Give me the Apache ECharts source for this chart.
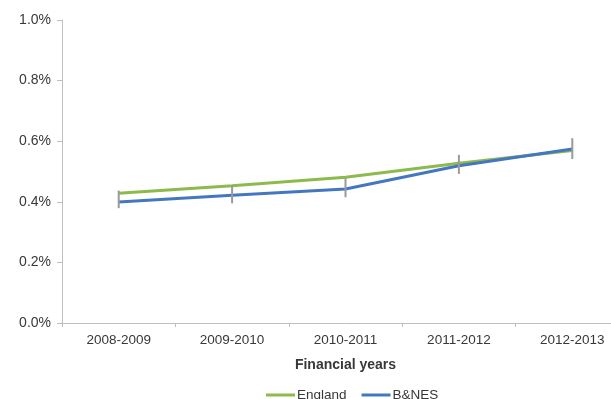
<!DOCTYPE html>
<html>
<head>
<meta charset="utf-8">
<script src="https://cdn.jsdelivr.net/npm/echarts@6/dist/echarts.min.js"></script>
<style>
  html, body { margin: 0; padding: 0; background: #fff; overflow: hidden; width: 611px; height: 399px; }
  /* the plot runs a little past the right edge of the window */
  #chart { width: 629px; height: 399px; }
</style>
</head>
<body>
<div id="chart"></div>
<script>
// Financial years on the category axis
const years = ['2008-2009', '2009-2010', '2010-2011', '2011-2012', '2012-2013'];
// Rates in percent
const england = [0.428, 0.453, 0.481, 0.527, 0.569];
const bnes = [0.399, 0.422, 0.442, 0.519, 0.574];
// Confidence interval for B&NES (percent)
const bnesLower = [0.379, 0.395, 0.415, 0.492, 0.541];
const bnesUpper = [0.437, 0.455, 0.478, 0.555, 0.610];
// Y-axis ticks
const yTicks = [0, 0.2, 0.4, 0.6, 0.8, 1.0];

const font = '"Liberation Sans", Arial, sans-serif';
const textColor = '#383838';
const axisGrey = '#bfbfbf';

const chart = echarts.init(document.getElementById('chart'), null, { renderer: 'canvas' });

const errorData = years.map((_, i) => [i, bnesLower[i], bnesUpper[i]]);

chart.setOption({
  animation: false,
  textStyle: { fontFamily: font },
  grid: { left: 62, top: 20, right: 0, height: 303 },
  xAxis: {
    type: 'category',
    data: years,
    boundaryGap: true,
    axisLine: { lineStyle: { color: axisGrey, width: 1 } },
    axisTick: { show: true, alignWithLabel: false, length: 4, lineStyle: { color: axisGrey } },
    axisLabel: { show: true, color: textColor, fontSize: 13.5, fontFamily: font, margin: 10 },
    name: 'Financial years',
    nameLocation: 'middle',
    nameGap: 35,
    nameTextStyle: { color: textColor, fontSize: 14, fontWeight: 'bold', fontFamily: font }
  },
  yAxis: {
    type: 'value',
    min: yTicks[0],
    max: yTicks[yTicks.length - 1],
    interval: 0.2,
    axisLine: { show: true, lineStyle: { color: axisGrey, width: 1 } },
    axisTick: { show: true, length: 5, lineStyle: { color: axisGrey } },
    splitLine: { show: false },
    axisLabel: {
      color: textColor, fontSize: 14, fontFamily: font, margin: 11,
      formatter: v => v.toFixed(1) + '%'
    }
  },
  legend: {
    top: 383,
    left: 261,
    itemWidth: 29,
    itemHeight: 3,
    itemGap: 15,
    icon: 'rect',
    textStyle: { color: textColor, fontSize: 13.5, fontFamily: font, padding: [0, 0, 0, -3] },
    data: ['England', 'B&NES']
  },
  series: [
    {
      name: 'England',
      type: 'line',
      data: england,
      showSymbol: false,
      symbol: 'none',
      lineStyle: { color: '#8cbb4b', width: 3 },
      itemStyle: { color: '#8cbb4b' },
      z: 2
    },
    {
      name: 'B&NES',
      type: 'line',
      data: bnes,
      showSymbol: false,
      symbol: 'none',
      lineStyle: { color: '#4477c0', width: 3 },
      itemStyle: { color: '#4477c0' },
      z: 3
    },
    {
      name: 'CI',
      type: 'custom',
      data: errorData,
      z: 4,
      renderItem: (params, api) => {
        const lo = api.coord([api.value(0), api.value(1)]);
        const hi = api.coord([api.value(0), api.value(2)]);
        return {
          type: 'line',
          shape: { x1: lo[0], y1: lo[1], x2: hi[0], y2: hi[1] },
          style: { stroke: '#9a9a9a', lineWidth: 2 }
        };
      }
    }
  ]
});
</script>
</body>
</html>
